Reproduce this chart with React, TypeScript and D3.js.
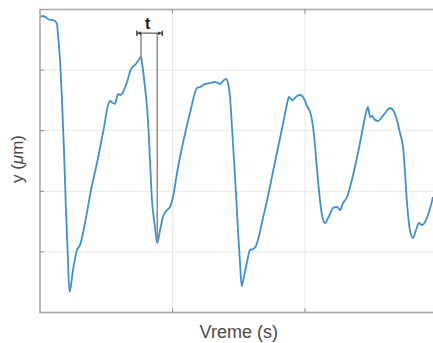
import React, { useEffect, useRef } from "react";
import * as d3 from "d3";

// time (s) and displacement (µm)
const timeValues = [
  0, 0.23, 0.45, 0.68, 0.91, 1.13, 1.28, 1.36, 1.51, 1.66, 1.81, 1.96, 2.08, 2.23,
  2.49, 2.79, 3.02, 3.25, 3.55, 3.85, 4.3, 4.75, 5.28, 5.51, 5.66, 5.89, 6.04, 6.19,
  6.34, 6.57, 6.87, 7.17, 7.4, 7.62, 7.7, 7.92, 8.15, 8.3, 8.45, 8.68, 8.85, 9.06,
  9.28, 9.58, 9.81, 10.04, 10.34, 10.79, 11.32, 11.85, 12.08, 12.3, 12.83, 13.21,
  13.43, 13.58, 13.81, 14.04, 14.19, 14.34, 14.49, 14.64, 14.79, 14.94, 15.09, 15.22,
  15.4, 15.62, 15.85, 16.08, 16.3, 16.45, 16.83, 17.21, 17.58, 17.96, 18.34, 18.64,
  18.79, 19.02, 19.17, 19.4, 19.62, 19.85, 20.15, 20.45, 20.68, 20.91, 21.13, 21.28,
  21.51, 21.74, 21.89, 22.11, 22.42, 22.64, 22.87, 23.17, 23.4, 23.77, 24.15, 24.38,
  24.6, 24.75, 24.91, 25.06, 25.21, 25.51, 25.81, 26.11, 26.42, 26.64, 26.87, 27.17,
  27.4, 27.55, 27.7, 27.92, 28.15, 28.38, 28.6, 28.83, 29.06, 29.28, 29.51, 29.66,
];
const yValues = [
  48.84, 48.93, 48.68, 48.35, 48.27, 48.1, 47.61, 45.79, 41.67, 35.07, 26.82, 16.91,
  10.31, 3.38, 7.01, 10.31, 11.14, 13.12, 16.58, 20.21, 24.67, 29.62, 34.9, 34.57,
  34.41, 36.06, 35.89, 36.06, 36.72, 38.04, 40.18, 40.84, 41.5, 42.16, 41.17, 37.21,
  31.77, 25.17, 18.56, 14.11, 11.47, 13.61, 15.76, 16.91, 17.41, 19.06, 23.02, 27.97,
  32.92, 37.05, 37.21, 37.54, 37.87, 38.04, 37.87, 37.71, 38.2, 38.53, 37.87, 35.56,
  30.61, 25.17, 19.72, 13.61, 8.33, 4.37, 6.02, 8.33, 10.31, 10.48, 10.97, 11.96,
  15.59, 19.22, 23.18, 27.15, 31.11, 34.41, 35.56, 35.07, 35.23, 35.73, 35.89, 35.56,
  34.08, 32.59, 29.29, 23.51, 18.56, 16.09, 14.77, 15.59, 16.25, 17.24, 17.41, 16.91,
  18.07, 19.06, 20.71, 24.01, 27.97, 30.61, 32.92, 33.91, 32.26, 32.43, 31.93, 31.6,
  32.26, 33.09, 33.75, 33.42, 32.26, 29.62, 27.31, 23.02, 18.07, 13.61, 12.29, 13.61,
  14.77, 14.44, 14.93, 16.09, 17.74, 19.06,
];

const xTicks = [0, 10, 20, 30];
const yTicks = [0, 10, 20, 30, 40, 50];

// the "t" interval: from the peak to the following trough
const tStart = { x: 7.62, y: 42.16 };
const tEnd = { x: 8.85, y: 11.47 };
const tLevel = 46.1;

const width = 433;
const height = 343;
const margin = { top: 9.5, right: -4.5, bottom: 30.5, left: 40 };

export default function App() {
  const ref = useRef<SVGSVGElement>(null);

  useEffect(() => {
    const svg = d3.select(ref.current);
    svg.selectAll("*").remove();

    const x = d3.scaleLinear().domain([0, 30]).range([margin.left, width - margin.right]);
    const y = d3.scaleLinear().domain([0, 50]).range([height - margin.bottom, margin.top]);
    const x0 = x(0), x1 = x(30), y0 = y(0), y1 = y(50);

    svg.append("defs").append("clipPath").attr("id", "plotclip")
      .append("rect").attr("x", x0).attr("y", y1).attr("width", x1 - x0).attr("height", y0 - y1);

    // grid
    const grid = svg.append("g").attr("stroke", "#e9e9e9").attr("stroke-width", 1);
    grid.selectAll(".gx").data(xTicks.slice(1, -1)).join("line")
      .attr("x1", d => x(d)).attr("x2", d => x(d)).attr("y1", y1).attr("y2", y0);
    grid.selectAll(".gy").data(yTicks.slice(1, -1)).join("line")
      .attr("y1", d => y(d)).attr("y2", d => y(d)).attr("x1", x0).attr("x2", x1);

    // data line
    const line = d3.line<number>()
      .x((d, i) => x(timeValues[i]))
      .y(d => y(d))
      .curve(d3.curveMonotoneX);
    svg.append("path")
      .datum(yValues)
      .attr("clip-path", "url(#plotclip)")
      .attr("fill", "none")
      .attr("stroke", "#3f8fd2")
      .attr("stroke-width", 1.8)
      .attr("stroke-linejoin", "round")
      .attr("d", line);

    // box
    const box = svg.append("g").attr("stroke", "#a8a8a8").attr("stroke-width", 1.6).attr("fill", "none");
    box.append("rect").attr("x", x0).attr("y", y1).attr("width", x1 - x0).attr("height", y0 - y1);

    // tick marks (inward)
    const ticks = svg.append("g").attr("stroke", "#8a8a8a").attr("stroke-width", 1);
    xTicks.slice(1, -1).forEach(t => {
      ticks.append("line").attr("x1", x(t)).attr("x2", x(t)).attr("y1", y0).attr("y2", y0 - 4);
      ticks.append("line").attr("x1", x(t)).attr("x2", x(t)).attr("y1", y1).attr("y2", y1 + 4);
    });
    yTicks.slice(1, -1).forEach(t => {
      ticks.append("line").attr("x1", x0).attr("x2", x0 + 4).attr("y1", y(t)).attr("y2", y(t));
      ticks.append("line").attr("x1", x1).attr("x2", x1 - 4).attr("y1", y(t)).attr("y2", y(t));
    });

    // annotation
    const ann = svg.append("g");
    const xa = x(tStart.x), xb = x(tEnd.x), ya = y(tLevel);
    ann.append("line").attr("x1", xa).attr("x2", xa).attr("y1", ya).attr("y2", y(tStart.y))
      .attr("stroke", "#8c8c8c").attr("stroke-width", 1.5);
    ann.append("line").attr("x1", xb).attr("x2", xb).attr("y1", ya).attr("y2", y(tEnd.y))
      .attr("stroke", "#8c8c8c").attr("stroke-width", 1.5);
    ann.append("line").attr("x1", xa - 4).attr("x2", xb + 5).attr("y1", ya).attr("y2", ya)
      .attr("stroke", "#555").attr("stroke-width", 1.2);
    ann.append("path")
      .attr("d", `M${xa - 4},${ya - 2.5}L${xa - 4},${ya + 2.5}M${xb + 5},${ya - 2.5}L${xb + 5},${ya + 2.5}`)
      .attr("stroke", "#333").attr("stroke-width", 1.5);
    ann.append("path")
      .attr("d", `M${xa - 3},${ya}l3,-2v4z M${xb + 4},${ya}l-3,-2v4z`)
      .attr("fill", "#333");
    ann.append("text")
      .attr("x", (xa + xb) / 2 - 1.5).attr("y", ya - 4.5)
      .attr("text-anchor", "middle")
      .attr("font-family", "Liberation Sans, Arial, sans-serif")
      .attr("font-weight", "bold").attr("font-size", 16)
      .attr("fill", "#1a1a1a")
      .text("t");

    // axis labels
    svg.append("text")
      .attr("x", (x0 + x1) / 2).attr("y", 338)
      .attr("text-anchor", "middle")
      .attr("font-family", "Liberation Sans, Arial, sans-serif")
      .attr("font-size", 18).attr("fill", "#4a4a4a")
      .text("Vreme (s)");
    const yl = svg.append("text")
      .attr("transform", `translate(23,${(y0 + y1) / 2 - 2}) rotate(-90)`)
      .attr("text-anchor", "middle")
      .attr("font-family", "Liberation Sans, Arial, sans-serif")
      .attr("font-size", 17).attr("fill", "#4a4a4a");
    yl.append("tspan").text("y (");
    yl.append("tspan").attr("font-style", "italic").text("\u03bc");
    yl.append("tspan").text("m)");
  }, []);

  return (
    <svg ref={ref} width={width} height={height}
      style={{ position: "absolute", left: 0, top: 0, background: "#fff" }} />
  );
}
